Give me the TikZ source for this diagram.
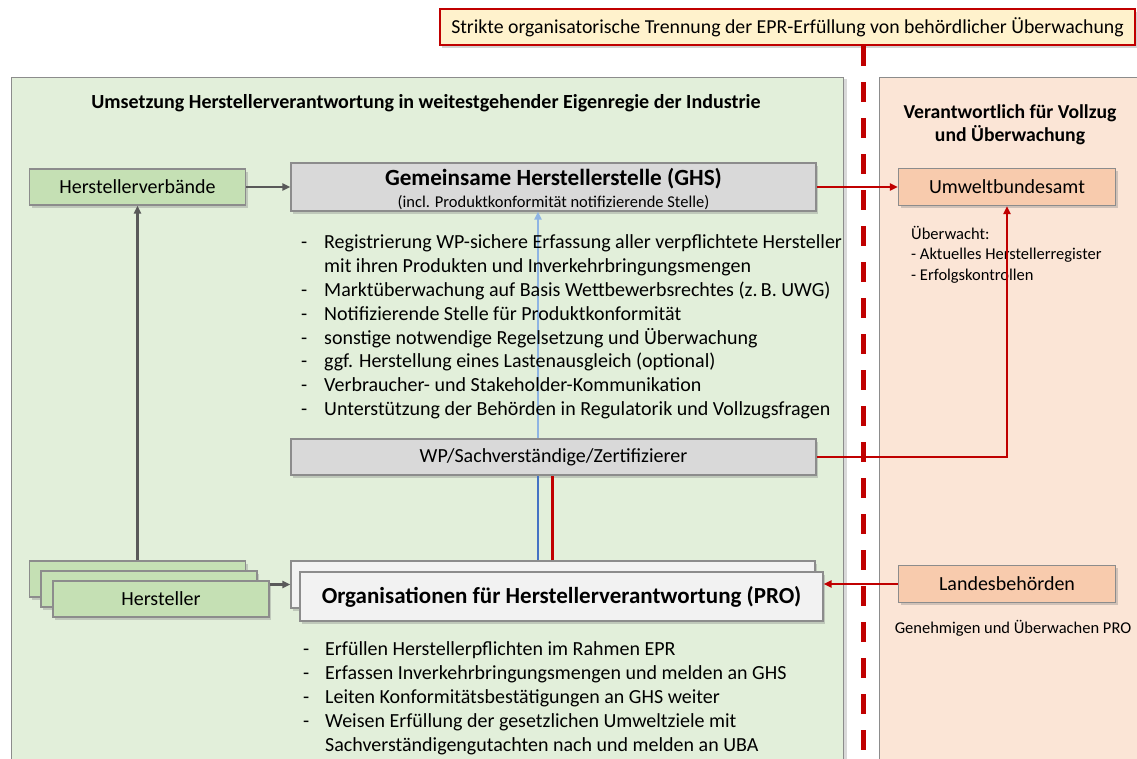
\documentclass[tikz,border=0pt]{standalone}
\usepackage{fontspec}
\setmainfont{Carlito}
\usetikzlibrary{positioning,shadows,arrows.meta}

\definecolor{panelgreen}{HTML}{E2EFDA}
\definecolor{boxgreen}{HTML}{C5E0B4}
\definecolor{panelorange}{HTML}{FBE5D6}
\definecolor{boxorange}{HTML}{F8CBAD}
\definecolor{boxgrey}{HTML}{D9D9D9}
\definecolor{profill}{HTML}{F2F2F2}
\definecolor{topfill}{HTML}{FFF2CC}
\definecolor{eprred}{HTML}{C00000}
\definecolor{arrowgrey}{HTML}{595959}
\definecolor{bordergrey}{HTML}{8C8C8C}
\definecolor{blueline}{HTML}{4472C4}
\definecolor{bluelight}{HTML}{8EB4E3}

\begin{document}
\begin{tikzpicture}[
    x=1pt, y=-1pt,
    box/.style={draw=bordergrey, line width=1.1pt, rectangle, inner sep=0pt,
        drop shadow={opacity=0.35, shadow xshift=2pt, shadow yshift=-2.5pt},
        font=\fontsize{20}{23}\selectfont},
    greenbox/.style={box, fill=boxgreen, minimum width=216pt, minimum height=36pt},
    orangebox/.style={box, fill=boxorange, minimum width=217pt, minimum height=37pt},
    greybox/.style={box, fill=boxgrey, minimum width=525pt},
    probox/.style={box, fill=profill, minimum width=523pt, minimum height=48pt,
        font=\fontsize{23}{27}\selectfont\bfseries},
    panel/.style={draw=bordergrey, line width=1pt, inner sep=0pt, anchor=north west,
        drop shadow={opacity=0.3, shadow xshift=3pt, shadow yshift=-1pt}},
    heading/.style={font=\fontsize{20}{23}\selectfont\bfseries, align=center},
    bullets/.style={anchor=north west, inner sep=0pt, align=left,
        font=\fontsize{20}{23.8}\selectfont},
    note/.style={inner sep=0pt, align=left, font=\fontsize{16.5}{20.5}\selectfont},
    arrow/.style={-{Triangle[length=8pt,width=7pt]}, line width=2.5pt, draw=arrowgrey},
    redarrow/.style={arrow, draw=eprred},
    redline/.style={line width=3pt, draw=eprred},
    bluearrow/.style={-{Triangle[length=8pt,width=7pt]}, line width=2pt, draw=bluelight}
]
    \useasboundingbox (0,0) rectangle (1137,758);
    \clip (0,0) rectangle (1137,758);

    % Panels
    \node[panel, fill=panelgreen, minimum width=832pt, minimum height=720pt] (ind) at (11,77) {};
    \node[panel, fill=panelorange, minimum width=300pt, minimum height=720pt] (auth) at (879,77) {};
    \node[heading] (indtitle) at (426,103) {Umsetzung Herstellerverantwortung in weitestgehender Eigenregie der Industrie};
    \node[heading, font=\fontsize{19.7}{23.5}\selectfont\bfseries] (authtitle) at (1010,125) {Verantwortlich für Vollzug\\und Überwachung};

    % Separation
    \node[draw=eprred, line width=2pt, fill=topfill, minimum width=695pt, minimum height=36pt,
        inner sep=0pt, drop shadow={opacity=0.35, shadow xshift=2pt, shadow yshift=-2.5pt},
        font=\fontsize{19.8}{23}\selectfont] (sep) at (787.5,27)
        {Strikte organisatorische Trennung der EPR-Erfüllung von behördlicher Überwachung};
    \coordinate (cut) at (863,760);
    \draw[eprred, line width=5pt, dash pattern=on 20pt off 16pt] (sep.south -| cut) -- (cut);

    % Place nodes
    \node[greenbox] (verb) at (137.5,187) {Herstellerverbände};
    \node[greybox, minimum height=48pt, align=center] (ghs) at (553.5,187)
        {{\fontsize{23.2}{24}\selectfont\bfseries\rule{0pt}{22pt}Gemeinsame Herstellerstelle (GHS)}\\[-1pt]
         {\fontsize{16.5}{17}\selectfont (incl. Produktkonformität notifizierende Stelle)}};
    \node[orangebox] (uba) at (1007,187) {Umweltbundesamt};
    \node[orangebox] (lb) at (1007,584) {Landesbehörden};

    \node[probox, minimum width=524pt, minimum height=47pt] (pro2) at (553,584.5) {};
    \node[probox, minimum height=49pt] (pro) at (561.5,596.5) {Organisationen für Herstellerverantwortung (PRO)};

    \foreach \i/\x/\y in {3/137.5/579, 2/149/589}
        \node[greenbox] (hst\i) at (\x,\y) {};
    \node[greenbox] (hst) at (161,599) {Hersteller};

    % blue line runs behind the WP box
    \coordinate (bl) at (538,0);
    \coordinate (rl) at (552,0);
    \draw[bluearrow] (pro2.north -| bl) -- (ghs.south -| bl);

    \node[greybox, minimum height=36pt] (wp) at (553.5,457) {WP/Sachverständige/Zertifizierer};

    % Texts
    \node[bullets] (ghslist) at (301,232) {\begin{tabular}{@{}p{23pt}@{}l@{}}
        - & Registrierung WP-sichere Erfassung aller verpflichtete Hersteller\\
          & mit ihren Produkten und Inverkehrbringungsmengen\\
        - & Marktüberwachung auf Basis Wettbewerbsrechtes (z.\,B. UWG)\\
        - & Notifizierende Stelle für Produktkonformität\\
        - & sonstige notwendige Regelsetzung und Überwachung\\
        - & ggf. Herstellung eines Lastenausgleich (optional)\\
        - & Verbraucher- und Stakeholder-Kommunikation\\
        - & Unterstützung der Behörden in Regulatorik und Vollzugsfragen
        \end{tabular}};
    \node[bullets, font=\fontsize{20}{24.2}\selectfont] (prolist) at (303,638) {\begin{tabular}{@{}p{22pt}@{}l@{}}
        - & Erfüllen Herstellerpflichten im Rahmen EPR\\
        - & Erfassen Inverkehrbringungsmengen und melden an GHS\\
        - & Leiten Konformitätsbestätigungen an GHS weiter\\
        - & Weisen Erfüllung der gesetzlichen Umweltziele mit\\
          & Sachverständigengutachten nach und melden an UBA
        \end{tabular}};
    \node[note, anchor=north west] (ubanote) at (911,226) {Überwacht:\\- Aktuelles Herstellerregister\\- Erfolgskontrollen};
    \node[note] (lbnote) at (1013,628) {Genehmigen und Überwachen PRO};

    % Add connections
    \draw[line width=2pt, draw=blueline] (pro2.north -| bl) -- (wp.south -| bl);
    \draw[arrow] (verb) -- (ghs);
    \draw[arrow] (hst3) -- (verb);
    \draw[arrow] (hst.east |- pro2.west) -- (pro2.west);
    \draw[redline] (pro2.north -| rl) -- (wp.south -| rl);
    \draw[redarrow] (ghs.east) -- (uba.west);
    \draw[redarrow] (wp.east) -| (uba.south);
    \draw[redarrow] (lb.west) -- (lb.west -| pro.east);
\end{tikzpicture}
\end{document}
